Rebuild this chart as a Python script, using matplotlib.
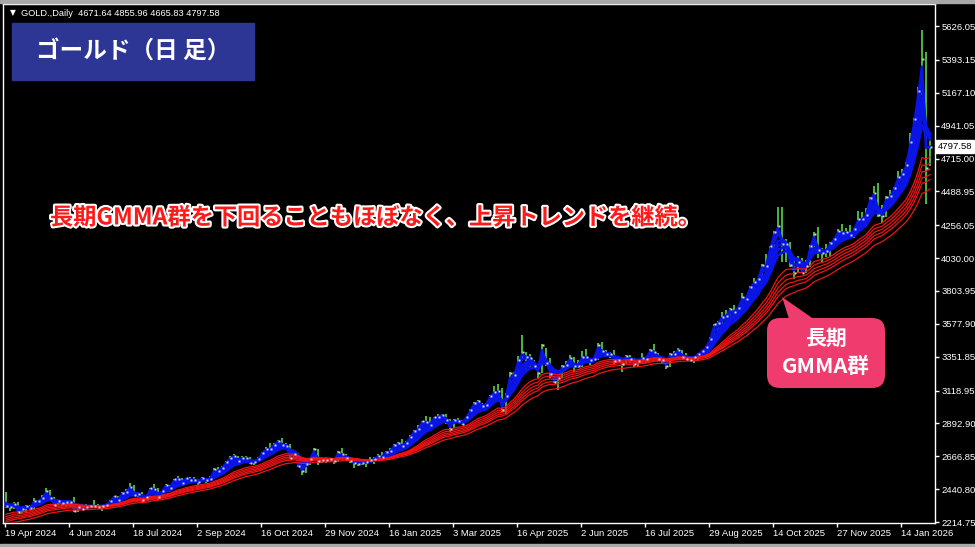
import numpy as np
import pandas as pd
import matplotlib
matplotlib.use("Agg")
import matplotlib.pyplot as plt
import matplotlib.patheffects as pe
from matplotlib.patches import FancyBboxPatch, Polygon, Rectangle
from matplotlib.transforms import IdentityTransform, blended_transform_factory

# 2営業日ごとの足 (19 Apr 2024 - 3 Feb 2026), 読み取り値
closes = [2327, 2316, 2337, 2286, 2303, 2323, 2309, 2360, 2358, 2377, 2425, 2379, 2333, 2361, 2343, 2350,
          2355, 2293, 2316, 2302, 2319, 2327, 2322, 2319, 2327, 2332, 2356, 2392, 2364, 2415, 2422, 2459,
          2400, 2409, 2365, 2384, 2447, 2443, 2390, 2427, 2472, 2447, 2508, 2514, 2485, 2518, 2504, 2503,
          2493, 2516, 2506, 2512, 2578, 2569, 2587, 2629, 2657, 2672, 2634, 2657, 2653, 2622, 2630, 2649,
          2692, 2720, 2715, 2747, 2774, 2744, 2736, 2658, 2685, 2598, 2565, 2611, 2650, 2715, 2633, 2642,
          2640, 2650, 2633, 2694, 2680, 2652, 2636, 2622, 2617, 2621, 2625, 2640, 2649, 2670, 2662, 2697,
          2702, 2744, 2755, 2740, 2760, 2798, 2842, 2856, 2908, 2904, 2882, 2935, 2939, 2951, 2916, 2857,
          2918, 2910, 2889, 2934, 2984, 3034, 3044, 3011, 3019, 3085, 3112, 3114, 2982, 3083, 3237, 3228,
          3327, 3381, 3349, 3343, 3288, 3241, 3431, 3306, 3235, 3177, 3203, 3290, 3295, 3343, 3288, 3289,
          3353, 3353, 3326, 3334, 3433, 3388, 3369, 3368, 3323, 3328, 3303, 3357, 3337, 3301, 3324, 3343,
          3338, 3397, 3387, 3336, 3326, 3289, 3373, 3369, 3398, 3348, 3335, 3332, 3347, 3371, 3393, 3416,
          3477, 3578, 3586, 3627, 3634, 3679, 3660, 3685, 3763, 3749, 3833, 3866, 3886, 3985, 3975, 4110,
          4208, 4250, 4125, 4126, 3985, 3930, 4003, 3930, 3977, 4115, 4195, 4083, 4067, 4077, 4135, 4160,
          4218, 4205, 4208, 4190, 4228, 4300, 4302, 4330, 4445, 4480, 4330, 4320, 4450, 4455, 4510, 4590,
          4610, 4670, 4830, 4985, 5180, 5400, 4650, 4797.58]
highs = [2420, 2340, 2352, 2353, 2326, 2331, 2330, 2378, 2365, 2400, 2450, 2432, 2386, 2364, 2363, 2360,
         2365, 2388, 2318, 2342, 2340, 2335, 2368, 2336, 2330, 2340, 2365, 2393, 2392, 2424, 2440, 2483,
         2470, 2420, 2420, 2392, 2451, 2477, 2450, 2430, 2475, 2472, 2510, 2531, 2515, 2520, 2527, 2525,
         2510, 2523, 2520, 2528, 2586, 2590, 2600, 2632, 2670, 2685, 2670, 2672, 2670, 2660, 2635, 2660,
         2697, 2730, 2758, 2758, 2780, 2790, 2755, 2750, 2712, 2690, 2590, 2615, 2655, 2721, 2715, 2650,
         2665, 2657, 2648, 2700, 2726, 2680, 2655, 2640, 2625, 2640, 2635, 2665, 2660, 2680, 2697, 2700,
         2725, 2748, 2763, 2785, 2770, 2815, 2845, 2882, 2912, 2942, 2940, 2940, 2955, 2955, 2955, 2920,
         2925, 2930, 2915, 2940, 2995, 3038, 3057, 3035, 3035, 3087, 3149, 3167, 3135, 3100, 3245, 3245,
         3357, 3500, 3386, 3370, 3328, 3268, 3436, 3414, 3345, 3265, 3252, 3296, 3325, 3365, 3348, 3330,
         3392, 3403, 3340, 3350, 3446, 3452, 3398, 3385, 3395, 3348, 3310, 3365, 3365, 3345, 3330, 3375,
         3352, 3402, 3439, 3375, 3345, 3335, 3375, 3390, 3410, 3400, 3375, 3350, 3350, 3378, 3395, 3425,
         3490, 3580, 3600, 3660, 3675, 3685, 3707, 3690, 3791, 3765, 3835, 3895, 3895, 3990, 4059, 4115,
         4218, 4380, 4381, 4160, 4140, 4030, 4045, 4030, 4020, 4120, 4210, 4245, 4100, 4130, 4140, 4165,
         4230, 4265, 4240, 4260, 4240, 4355, 4350, 4375, 4450, 4525, 4550, 4395, 4460, 4500, 4520, 4630,
         4645, 4690, 4890, 4995, 5210, 5600, 5450, 4855.96]
lows = [2310, 2292, 2305, 2285, 2277, 2277, 2296, 2306, 2332, 2354, 2370, 2373, 2325, 2330, 2322, 2320,
        2315, 2286, 2287, 2296, 2300, 2310, 2316, 2310, 2293, 2318, 2320, 2350, 2352, 2360, 2392, 2420,
        2393, 2384, 2353, 2365, 2380, 2430, 2364, 2380, 2420, 2440, 2445, 2490, 2470, 2484, 2500, 2495,
        2472, 2490, 2485, 2500, 2510, 2560, 2546, 2585, 2625, 2650, 2625, 2625, 2640, 2614, 2605, 2630,
        2655, 2685, 2708, 2715, 2730, 2730, 2725, 2650, 2655, 2590, 2537, 2555, 2605, 2645, 2605, 2620,
        2620, 2630, 2614, 2630, 2675, 2640, 2620, 2583, 2600, 2610, 2596, 2620, 2615, 2640, 2656, 2660,
        2695, 2700, 2740, 2730, 2735, 2755, 2775, 2835, 2850, 2880, 2865, 2880, 2920, 2920, 2890, 2833,
        2860, 2895, 2880, 2905, 2930, 2980, 3025, 3000, 3005, 3015, 3076, 3105, 2970, 2957, 3080, 3195,
        3225, 3320, 3260, 3265, 3268, 3202, 3240, 3290, 3208, 3170, 3120, 3205, 3280, 3290, 3245, 3272,
        3280, 3345, 3293, 3315, 3330, 3370, 3355, 3340, 3300, 3310, 3247, 3300, 3310, 3282, 3283, 3320,
        3310, 3330, 3380, 3325, 3300, 3268, 3280, 3355, 3365, 3340, 3330, 3323, 3311, 3325, 3350, 3380,
        3400, 3470, 3510, 3580, 3615, 3625, 3645, 3630, 3685, 3717, 3740, 3790, 3820, 3885, 3945, 3945,
        4080, 4200, 4004, 4005, 3970, 3886, 3930, 3928, 3930, 3970, 4095, 4030, 4000, 4040, 4040, 4120,
        4140, 4190, 4175, 4170, 4170, 4200, 4270, 4300, 4310, 4440, 4310, 4275, 4310, 4420, 4410, 4500,
        4570, 4540, 4660, 4780, 4980, 5150, 4400, 4665.83]
# 表示範囲より前の終値 (EMAの助走用, 2営業日ごと)
warmup_closes = [2030, 2005, 1995, 2035, 2040, 2025, 2045, 2055, 2065, 2075, 2063, 2050, 2030, 2045, 2030, 2020,
                 2025, 2030, 2025, 2045, 2040, 2030, 2050, 2035, 2015, 2000, 2020, 2015, 2025, 2030, 2045, 2085,
                 2125, 2160, 2180, 2160, 2160, 2180, 2165, 2190, 2235, 2260, 2290, 2330, 2350, 2345, 2375, 2370]

short_periods = [3, 5, 8, 10, 12, 15]
long_periods = [30, 35, 40, 45, 50, 60]

date_ticks = [0, 32, 64, 96, 128, 160, 192, 224, 256, 288, 320, 352, 384, 416, 448]
date_labels = ["19 Apr 2024", "4 Jun 2024", "18 Jul 2024", "2 Sep 2024", "16 Oct 2024", "29 Nov 2024",
               "16 Jan 2025", "3 Mar 2025", "16 Apr 2025", "2 Jun 2025", "16 Jul 2025", "29 Aug 2025",
               "14 Oct 2025", "27 Nov 2025", "14 Jan 2026"]
price_ticks = [2214.75, 2440.80, 2666.85, 2892.90, 3118.95, 3351.85, 3577.90, 3803.95,
               4030.00, 4256.05, 4488.95, 4715.00, 4941.05, 5167.10, 5393.15, 5626.05]
header = "GOLD.,Daily  4671.64 4855.96 4665.83 4797.58"
last_close = 4797.58

W, H = 975, 547
plt.rcParams['font.family'] = ['Noto Sans CJK JP', 'DejaVu Sans']
small_font = 'Liberation Sans'

fig = plt.figure(figsize=(W / 100, H / 100), dpi=100, facecolor='black')
ax = fig.add_axes([3 / W, 1 - 523 / H, 932 / W, 519 / H], facecolor='black')

# 1スロット = 2本分 -> x はバー番号
xs = np.arange(len(closes)) * 2 + 0.5
ax.vlines(xs, lows, highs, color='#58d64a', lw=1.2, zorder=1)

s = pd.Series(warmup_closes + closes, dtype=float)
n0 = len(warmup_closes)
for p in short_periods:
    ema = s.ewm(span=p / 2, adjust=False).mean().iloc[n0:]
    ax.plot(xs, ema.values, color='#0a14e6', lw=1.9, zorder=2)
for p in long_periods:
    ema = s.ewm(span=p / 2, adjust=False).mean().iloc[n0:]
    ax.plot(xs, ema.values, color='#f01414', lw=0.9, zorder=3)

ax.plot(xs + 0.6, closes, ls='none', marker='s', ms=1.4, mew=0, color='#e6f5ff', alpha=0.9, zorder=4)

ax.set_xlim(-1, 465)
ax.set_ylim(2208, 5778)

for sp in ax.spines.values():
    sp.set_color('white')
    sp.set_linewidth(1)

ax.set_xticks(date_ticks)
ax.set_xticklabels(date_labels, ha='left')
ax.set_yticks(price_ticks)
ax.set_yticklabels([f"{v:.2f}" for v in price_ticks])
ax.yaxis.tick_right()
ax.tick_params(axis='x', colors='white', labelsize=6.8, length=3, width=1, pad=1.5)
ax.tick_params(axis='y', colors='white', labelsize=6.8, length=3, width=1, pad=1.5)
for lab in ax.get_xticklabels() + ax.get_yticklabels():
    lab.set_family(small_font)

# 現在値ラベル
tr = blended_transform_factory(ax.transAxes, ax.transData)
ax.text(1.003, last_close, f"{last_close:.2f}", transform=tr, fontsize=6.8, color='black',
        family=small_font, va='center', ha='left',
        bbox=dict(boxstyle='square,pad=0.2', fc='white', ec='white'))

# ヘッダー
fig.text(10 / W, 1 - 13 / H, "\u25bc", color='white', fontsize=5.5, va='center', family='DejaVu Sans')
fig.text(21 / W, 1 - 13 / H, header, color='white', fontsize=6.7, va='center', family=small_font)

# 外枠の灰色
fig.patches.append(Rectangle((0, H - 3), W, 3, transform=IdentityTransform(), color='#a8a8a8', zorder=0))
fig.patches.append(Rectangle((0, 0), W, 3, transform=IdentityTransform(), color='#a8a8a8', zorder=0))

# タイトル
fig.patches.append(Rectangle((12, H - 80), 242, 57, transform=IdentityTransform(), color='#2d3694', zorder=5))
fig.text(133 / W, 1 - 51 / H, "ゴールド（日 足）", color='white', fontsize=17, fontweight='bold',
         ha='center', va='center', zorder=6)

# コメント
fig.text(50 / W, 1 - 218 / H, "長期GMMA群を下回ることもほぼなく、上昇トレンドを継続。", color='#ff1a1a',
         fontsize=16.7, fontweight='bold', ha='left', va='center', zorder=6,
         path_effects=[pe.withStroke(linewidth=3, foreground='white')])

# 吹き出し
pink = '#ef3b6e'
fig.patches.append(FancyBboxPatch((767, H - 388), 118, 70, boxstyle='round,pad=0,rounding_size=13',
                                  transform=IdentityTransform(), fc=pink, ec='none', zorder=5))
fig.patches.append(Polygon([(782, H - 297), (790, H - 322), (818, H - 322)], closed=True,
                           transform=IdentityTransform(), fc=pink, ec='none', zorder=5))
fig.text(826 / W, 1 - 338 / H, "長期", color='white', fontsize=15, fontweight='bold',
         ha='center', va='center', zorder=6)
fig.text(826 / W, 1 - 366 / H, "GMMA群", color='white', fontsize=15.5, fontweight='bold',
         ha='center', va='center', zorder=6)

fig.savefig('out.png', dpi=100, facecolor='black')
